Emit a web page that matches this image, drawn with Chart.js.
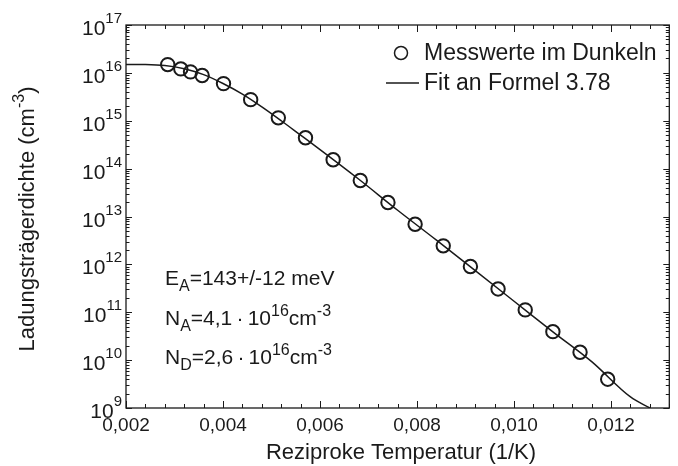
<!DOCTYPE html>
<html>
<head>
<meta charset="utf-8">
<script src="https://cdn.jsdelivr.net/npm/chart.js@4.4.1/dist/chart.umd.min.js"></script>
<style>
  html, body { margin: 0; padding: 0; background: #fff; }
  #wrap { width: 678px; height: 466px; }
</style>
</head>
<body>
<div id="wrap"><canvas id="chart" width="678" height="466"></canvas></div>
<script>
const invTemp = [0.00286, 0.00313, 0.00333, 0.00357, 0.00401, 0.00457, 0.00514, 0.00570, 0.00627, 0.00683,
                 0.00740, 0.00796, 0.00854, 0.00910, 0.00967, 0.01023, 0.01080, 0.01136, 0.01193];
const density = [1.49e16, 1.21e16, 1.05e16, 8.8e15, 5.97e15, 2.76e15, 1.15e15, 4.4e14, 1.53e14, 5.66e13,
                 1.96e13, 6.9e12, 2.44e12, 9.0e11, 3.07e11, 1.12e11, 3.93e10, 1.46e10, 4.0e9];

// Fit curve, sampled off the plot
const fitInvTemp = [0.0020, 0.0024, 0.0028, 0.0032, 0.0036, 0.0040, 0.0044, 0.0048, 0.0052, 0.0056,
                    0.0060, 0.0068, 0.0076, 0.0084, 0.0092, 0.0100, 0.0108, 0.0116, 0.0124, 0.0128];
const fitDensity = [1.50e16, 1.49e16, 1.42e16, 1.22e16, 9.2e15, 6.0e15, 3.6e15, 1.95e15, 1.0e15, 5.0e14,
                    2.5e14, 6.0e13, 1.35e13, 3.2e12, 7.4e11, 1.7e11, 3.9e10, 9.3e9, 1.7e9, 1.0e9];

const xTicks = [0.002, 0.004, 0.006, 0.008, 0.010, 0.012];
const xTickLabels = ['0,002', '0,004', '0,006', '0,008', '0,010', '0,012'];
const yExponents = [9, 10, 11, 12, 13, 14, 15, 16, 17];

const FONT = 'Liberation Sans, Arial, sans-serif';
const INK = '#1a1a1a';

// draw text with sub/superscripts, parts: [text, mode] where mode is '', 'sub' or 'sup'
function richText(ctx, x, y, parts, size, align, opts) {
    opts = opts || {};
    const small = opts.small || Math.round(size * 0.72);
    const supDy = opts.supDy !== undefined ? opts.supDy : -size * 0.42;
    const subDy = opts.subDy !== undefined ? opts.subDy : size * 0.28;
    const widths = parts.map(p => {
        ctx.font = (p[1] ? small : size) + 'px ' + FONT;
        return ctx.measureText(p[0]).width;
    });
    const total = widths.reduce((a, b) => a + b, 0);
    let cx = align === 'right' ? x - total : (align === 'center' ? x - total / 2 : x);
    ctx.textAlign = 'left';
    ctx.textBaseline = 'alphabetic';
    parts.forEach((p, i) => {
        ctx.font = (p[1] ? small : size) + 'px ' + FONT;
        let dy = 0;
        if (p[1] === 'sup') dy = supDy;
        if (p[1] === 'sub') dy = subDy;
        ctx.fillText(p[0], cx, y + dy);
        cx += widths[i];
    });
    return total;
}

const framePlugin = {
    id: 'frame',
    afterDatasetsDraw(chart) {
        const ctx = chart.ctx;
        const a = chart.chartArea;
        const xs = chart.scales.x;
        const ys = chart.scales.y;
        ctx.save();
        ctx.strokeStyle = INK;
        ctx.fillStyle = INK;
        ctx.lineWidth = 1.3;
        ctx.strokeRect(a.left, a.top, a.right - a.left, a.bottom - a.top);

        // x ticks, bottom and top
        ctx.lineWidth = 1;
        ctx.beginPath();
        for (let k = 0; k <= 28; k++) {
            const v = xs.min + k * 0.0004;
            if (v > xs.max + 1e-9) break;
            const px = Math.round(xs.getPixelForValue(v)) + 0.5;
            const len = k % 5 === 0 ? 7 : 4;
            ctx.moveTo(px, a.bottom); ctx.lineTo(px, a.bottom - len);
            ctx.moveTo(px, a.top); ctx.lineTo(px, a.top + len);
        }
        // y ticks, left and right
        yExponents.forEach(e => {
            for (let m = 1; m <= 9; m++) {
                const v = m * Math.pow(10, e);
                if (v > ys.max * 1.0001) break;
                const py = Math.round(ys.getPixelForValue(v)) + 0.5;
                const len = m === 1 ? 6 : 3.5;
                ctx.moveTo(a.left, py); ctx.lineTo(a.left + len, py);
                ctx.moveTo(a.right, py); ctx.lineTo(a.right - len, py);
            }
        });
        ctx.stroke();

        // x tick labels
        ctx.font = '19px ' + FONT;
        ctx.textAlign = 'center';
        ctx.textBaseline = 'alphabetic';
        xTicks.forEach((v, i) => {
            ctx.fillText(xTickLabels[i], xs.getPixelForValue(v), a.bottom + 23);
        });

        // y tick labels 10^n
        yExponents.forEach(e => {
            const py = ys.getPixelForValue(Math.pow(10, e));
            richText(ctx, a.left - 4, py + 10, [['10', ''], [String(e), 'sup']], 21, 'right',
                     { small: 15, supDy: -12 });
        });

        // axis titles
        ctx.font = '22px ' + FONT;
        ctx.textAlign = 'center';
        ctx.fillText('Reziproke Temperatur (1/K)', 401, 459);
        ctx.save();
        ctx.translate(34, 219);
        ctx.rotate(-Math.PI / 2);
        richText(ctx, 0, 0, [['Ladungsträgerdichte (cm', ''], ['-3', 'sup'], [')', '']], 22, 'center',
                 { small: 16, supDy: -10 });
        ctx.restore();

        // legend
        ctx.lineWidth = 1.5;
        ctx.beginPath();
        ctx.arc(401, 53, 6.5, 0, Math.PI * 2);
        ctx.stroke();
        ctx.lineWidth = 1.3;
        ctx.beginPath();
        ctx.moveTo(386, 83); ctx.lineTo(419, 83);
        ctx.stroke();
        ctx.font = '23px ' + FONT;
        ctx.textAlign = 'left';
        ctx.fillText('Messwerte im Dunkeln', 424, 60);
        ctx.fillText('Fit an Formel 3.78', 424, 90);

        // fit parameters
        const fitOpts = { small: 16, supDy: -9, subDy: 6 };
        richText(ctx, 165, 285, [['E', ''], ['A', 'sub'], ['=143+/-12 meV', '']], 21, 'left', fitOpts);
        richText(ctx, 165, 325, [['N', ''], ['A', 'sub'], ['=4,1\u2009\u00b7\u200910', ''], ['16', 'sup'], ['cm', ''], ['-3', 'sup']],
                 21, 'left', fitOpts);
        richText(ctx, 165, 364, [['N', ''], ['D', 'sub'], ['=2,6\u2009\u00b7\u200910', ''], ['16', 'sup'], ['cm', ''], ['-3', 'sup']],
                 21, 'left', fitOpts);
        ctx.restore();
    }
};

new Chart(document.getElementById('chart'), {
    type: 'scatter',
    data: {
        datasets: [{
            label: 'Fit an Formel 3.78',
            data: fitInvTemp.map((x, i) => ({ x: x, y: fitDensity[i] })),
            showLine: true,
            borderColor: INK,
            borderWidth: 1.5,
            pointRadius: 0,
            cubicInterpolationMode: 'monotone',
            order: 2
        }, {
            label: 'Messwerte im Dunkeln',
            data: invTemp.map((x, i) => ({ x: x, y: density[i] })),
            pointStyle: 'circle',
            pointRadius: 6.7,
            pointBorderWidth: 2,
            borderColor: INK,
            backgroundColor: 'rgba(0,0,0,0)',
            order: 1
        }]
    },
    options: {
        responsive: false,
        animation: false,
        devicePixelRatio: 1,
        layout: { padding: { left: 126, top: 25, right: 1, bottom: 58 } },
        plugins: { legend: { display: false }, tooltip: { enabled: false } },
        scales: {
            x: { type: 'linear', min: 0.002, max: 0.0132, display: false },
            y: { type: 'logarithmic', min: 1e9, max: 1e17, display: false }
        }
    },
    plugins: [framePlugin]
});
</script>
</body>
</html>
